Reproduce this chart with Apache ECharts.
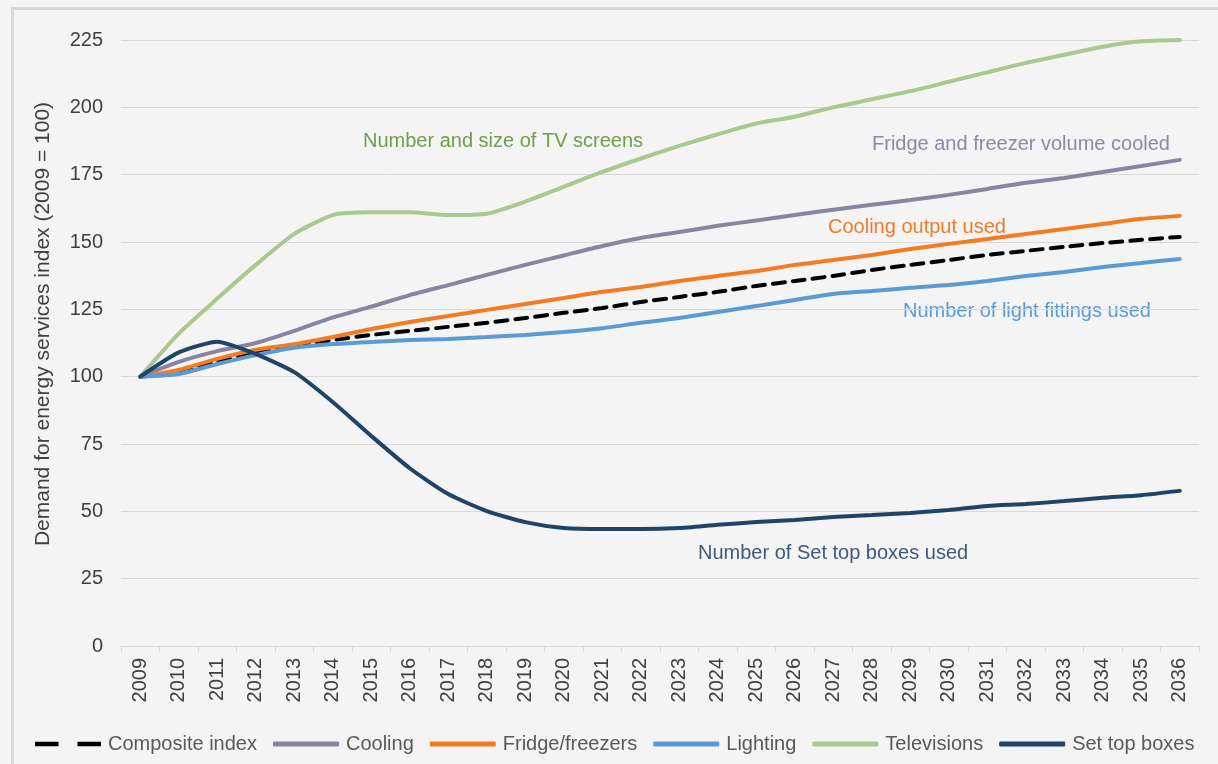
<!DOCTYPE html>
<html>
<head>
<meta charset="utf-8">
<script src="https://cdn.jsdelivr.net/npm/echarts@6/dist/echarts.min.js"></script>
<style>
  html, body { margin: 0; padding: 0; background: #f5f4f5; }
  #chart { width: 1218px; height: 764px; }
</style>
</head>
<body>
<div id="chart"></div>
<script>
// years on the x axis
var years = [];
for (var y = 2009; y <= 2036; y++) years.push(String(y));

// index values (2009 = 100)
var composite = [100, 101.7, 105.5, 108.8, 111.4, 113.6, 115.5, 117, 118.5, 120, 121.8, 123.7, 125.5, 127.7, 129.6, 131.5, 133.7, 135.5, 137.4, 139.6, 141.5, 143.3, 145.2, 146.7, 148.2, 149.6, 150.8, 151.9];
var cooling = [100, 105.5, 109.5, 112.5, 117, 122, 126, 130.3, 134, 137.8, 141.5, 145, 148.5, 151.5, 153.7, 156, 158, 160, 162, 163.8, 165.6, 167.5, 169.7, 172, 173.8, 176, 178.2, 180.5];
var fridge = [100, 102.5, 106.6, 110, 112, 114.7, 117.7, 120.3, 122.5, 124.8, 127, 129.2, 131.5, 133.3, 135.5, 137.4, 139.2, 141.5, 143.3, 145.2, 147.4, 149.3, 151.1, 153, 154.8, 156.7, 158.6, 159.7];
var lighting = [100, 101, 104.7, 108, 110.7, 112.1, 112.9, 113.6, 114, 114.7, 115.5, 116.6, 118, 120, 121.8, 124, 126.2, 128.5, 130.7, 131.8, 133, 134, 135.5, 137.4, 138.9, 140.7, 142.2, 143.7];
var televisions = [100, 116, 129, 141.5, 153, 160, 161, 161, 160, 160.5, 165, 170.5, 176, 181, 185.7, 190, 194, 196.5, 200, 203, 206, 209.5, 213, 216.5, 219.5, 222.5, 224.5, 225];
var setTop = [100, 109, 113, 108.4, 101.7, 90.6, 78, 66, 56.4, 50.1, 46, 43.8, 43.4, 43.4, 43.8, 45, 46, 46.8, 47.9, 48.6, 49.4, 50.5, 52, 52.7, 53.8, 55, 56, 57.6];

var chart = echarts.init(document.getElementById("chart"));

function mkLine(name, data, color, dashed) {
  return {
    name: name,
    type: "line",
    data: data,
    smooth: 0.2,
    symbol: "none",
    showSymbol: false,
    lineStyle: { color: color, width: 4, type: dashed ? [12, 8] : "solid", cap: "round" },
    itemStyle: { color: color }
  };
}

var font = "Liberation Sans, Arial, sans-serif";

function note(text, left, top, color) {
  return {
    type: "text",
    left: left,
    top: top,
    style: { text: text, fill: color, font: "20px " + font }
  };
}

var option = {
  backgroundColor: "#f5f4f5",
  animation: false,
  textStyle: { fontFamily: font },
  grid: { left: 121, right: 19, top: 40, bottom: 118 },
  legend: {
    bottom: 5,
    left: 30,
    itemWidth: 66,
    itemHeight: 5,
    itemGap: 16,
    textStyle: { color: "#595959", fontSize: 20, padding: [0, 0, 0, 2] },
    data: [
      { name: "Composite index", icon: "path://M0,0H20V4H0Z M36,0H56V4H36Z" },
      { name: "Cooling", icon: "roundRect" },
      { name: "Fridge/freezers", icon: "roundRect" },
      { name: "Lighting", icon: "roundRect" },
      { name: "Televisions", icon: "roundRect" },
      { name: "Set top boxes", icon: "roundRect" }
    ]
  },
  xAxis: {
    type: "category",
    data: years,
    boundaryGap: true,
    axisLine: { lineStyle: { color: "#d9d9d9", width: 1 } },
    axisTick: { show: true, length: 6, lineStyle: { color: "#d9d9d9" } },
    axisLabel: { rotate: 90, color: "#404040", fontSize: 20, margin: 12, interval: 0 }
  },
  yAxis: {
    type: "value",
    min: 0,
    max: 225,
    interval: 25,
    axisLine: { show: false },
    axisTick: { show: false },
    axisLabel: { color: "#404040", fontSize: 20, margin: 18 },
    splitLine: { lineStyle: { color: "#d9d9d9", width: 1 } }
  },
  series: [
    mkLine("Composite index", composite, "#000000", true),
    mkLine("Cooling", cooling, "#8786a1", false),
    mkLine("Fridge/freezers", fridge, "#f47b20", false),
    mkLine("Lighting", lighting, "#5b9bd5", false),
    mkLine("Televisions", televisions, "#a9c98f", false),
    mkLine("Set top boxes", setTop, "#1f4468", false)
  ],
  graphic: [
    { type: "rect", left: 10, top: 6, shape: { width: 1210, height: 760 }, style: { fill: "none", stroke: "#d9d9d9", lineWidth: 3 }, silent: true },
    {
      type: "text",
      x: 43,
      y: 324,
      rotation: Math.PI / 2,
      style: {
        text: "Demand for energy services index (2009 = 100)",
        fill: "#404040",
        font: "21px " + font,
        align: "center",
        verticalAlign: "middle"
      }
    },
    note("Number and size of TV screens", 363, 131, "#6f9e4c"),
    note("Fridge and freezer volume cooled", 872, 134, "#8a8aa3"),
    note("Cooling output used", 828, 217, "#f07a28"),
    note("Number of light fittings used", 903, 301, "#5b9bd5"),
    note("Number of Set top boxes used", 698, 543, "#3d5a7a")
  ]
};

chart.setOption(option);
</script>
</body>
</html>
